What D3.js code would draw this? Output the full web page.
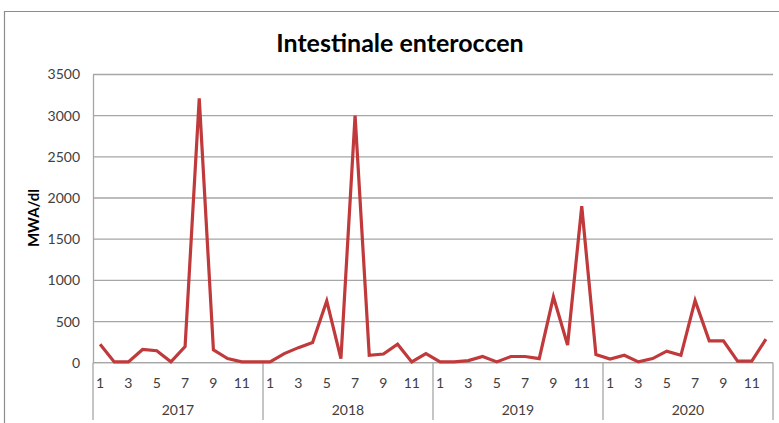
<!DOCTYPE html>
<html lang="nl">
<head>
  <meta charset="UTF-8">
  <title>Intestinale enteroccen</title>
  <script src="https://d3js.org/d3.v7.min.js"></script>
  <style>
    body { margin: 0; background: #fff; }
    svg { display: block; font-family: Lato, "Open Sans", sans-serif; }
  </style>
</head>
<body>
  <div id="chart"></div>
  <script>
    // data
    const years = ["2017", "2018", "2019", "2020"];
    const months = [1, 2, 3, 4, 5, 6, 7, 8, 9, 10, 11, 12];
    const values2017 = [225, 10, 10, 160, 145, 10, 195, 3210, 155, 50, 10, 10];
    const values2018 = [10, 110, 183, 245, 750, 50, 3000, 90, 105, 225, 10, 110];
    const values2019 = [10, 10, 25, 75, 10, 75, 75, 50, 800, 215, 1900, 100];
    const values2020 = [45, 90, 10, 50, 140, 90, 755, 265, 265, 20, 20, 285];
    const yTicks = [0, 500, 1000, 1500, 2000, 2500, 3000, 3500];

    const series = [values2017, values2018, values2019, values2020];
    const data = [];
    years.forEach((yr, i) => {
      months.forEach((m, j) => {
        data.push({ key: yr + "-" + m, year: yr, month: m, value: series[i][j] });
      });
    });

    const width = 779, height = 423;
    const plotLeft = 93, plotRight = 773, plotTop = 74.5, plotBottom = 362.7;

    const svg = d3.select("#chart").append("svg")
      .attr("width", width)
      .attr("height", height);

    // frame
    svg.append("path")
      .attr("d", "M4.5," + height + "V11.5H" + (width + 5))
      .attr("fill", "none")
      .attr("stroke", "#8c8c8c")
      .attr("stroke-width", 1.2);

    const x = d3.scaleBand()
      .domain(data.map(d => d.key))
      .range([plotLeft, plotRight]);

    const xYear = d3.scaleBand()
      .domain(years)
      .range([plotLeft, plotRight]);

    const y = d3.scaleLinear()
      .domain([0, 3500])
      .range([plotBottom, plotTop]);

    // gridlines
    svg.append("g")
      .selectAll("line")
      .data(yTicks)
      .enter()
      .append("line")
      .attr("x1", plotLeft)
      .attr("x2", plotRight)
      .attr("y1", d => y(d))
      .attr("y2", d => y(d))
      .attr("stroke", "#a6a6a6")
      .attr("stroke-width", 1.3);

    // y axis
    const yAxis = svg.append("g")
      .attr("transform", "translate(" + plotLeft + ",0)")
      .call(d3.axisLeft(y).tickValues(yTicks).tickSize(0).tickPadding(13).tickFormat(d3.format("d")));
    yAxis.select(".domain").attr("stroke", "#a6a6a6").attr("stroke-width", 1.3);
    yAxis.selectAll("text")
      .attr("font-size", "14px")
      .attr("fill", "#404040")
      .attr("font-family", "Lato, sans-serif");

    // x axis base line
    svg.append("line")
      .attr("x1", plotLeft).attr("x2", plotRight)
      .attr("y1", plotBottom).attr("y2", plotBottom)
      .attr("stroke", "#a6a6a6").attr("stroke-width", 1.3);

    // year separators
    svg.append("g")
      .selectAll("line")
      .data(years.concat(["end"]))
      .enter()
      .append("line")
      .attr("x1", (d, i) => i < years.length ? xYear(d) : plotRight)
      .attr("x2", (d, i) => i < years.length ? xYear(d) : plotRight)
      .attr("y1", plotBottom)
      .attr("y2", 420)
      .attr("stroke", "#a6a6a6")
      .attr("stroke-width", 1.3);

    // month labels
    svg.append("g")
      .selectAll("text")
      .data(data.filter(d => d.month % 2 === 1))
      .enter()
      .append("text")
      .attr("x", d => x(d.key) + x.bandwidth() / 2)
      .attr("y", 388)
      .attr("text-anchor", "middle")
      .attr("font-size", "14px")
      .attr("fill", "#404040")
      .text(d => d.month);

    // year labels
    svg.append("g")
      .selectAll("text")
      .data(years)
      .enter()
      .append("text")
      .attr("x", d => xYear(d) + xYear.bandwidth() / 2)
      .attr("y", 415)
      .attr("text-anchor", "middle")
      .attr("font-size", "14px")
      .attr("fill", "#404040")
      .text(d => d);

    // line
    const line = d3.line()
      .x(d => x(d.key) + x.bandwidth() / 2)
      .y(d => y(d.value));

    svg.append("path")
      .datum(data)
      .attr("d", line)
      .attr("fill", "none")
      .attr("stroke", "#c0393b")
      .attr("stroke-width", 3.2)
      .attr("stroke-linejoin", "miter");

    // title
    svg.append("text")
      .attr("x", 400)
      .attr("y", 52)
      .attr("text-anchor", "middle")
      .attr("font-size", "25px")
      .attr("font-weight", "bold")
      .attr("fill", "#000")
      .text("Intestinale enteroccen");

    // y label
    svg.append("text")
      .attr("transform", "translate(39,218) rotate(-90)")
      .attr("text-anchor", "middle")
      .attr("font-size", "15px")
      .attr("font-weight", "bold")
      .attr("fill", "#000")
      .text("MWA/dl");
  </script>
</body>
</html>
